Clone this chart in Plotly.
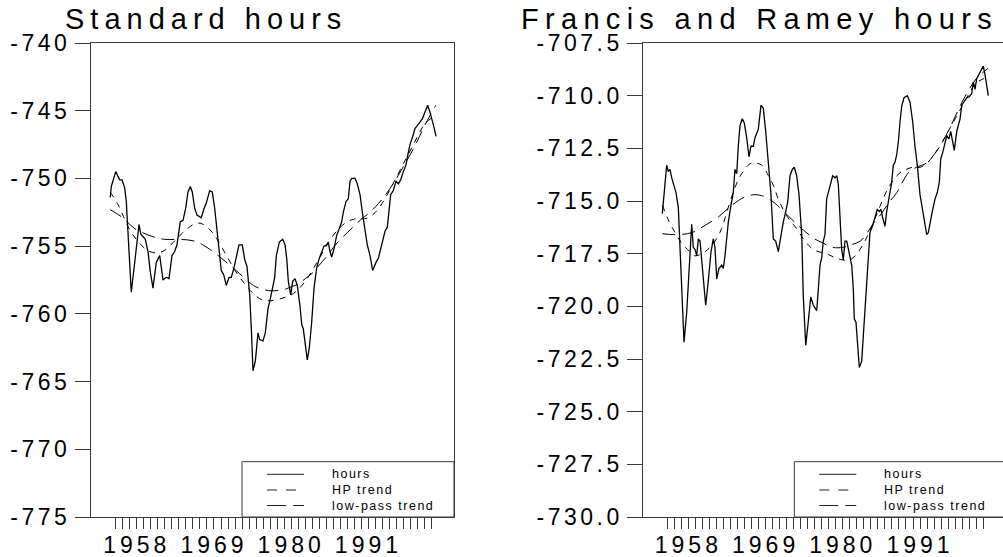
import plotly.graph_objects as go

W, H = 1003, 557

# ---------------- data ----------------
# Left panel: Standard hours
std_year = [1954.23, 1954.37, 1955.00, 1955.33, 1955.57, 1955.90, 1956.28, 1956.51, 1956.75, 1957.22,
            1957.71, 1958.03, 1958.32, 1958.56, 1958.89, 1959.22, 1959.60, 1959.93, 1960.31, 1960.78,
            1961.27, 1961.74, 1962.21, 1962.59, 1963.02, 1963.40, 1963.73, 1964.20, 1964.59, 1964.97,
            1965.30, 1965.63, 1965.91, 1966.25, 1966.58, 1966.97, 1967.19, 1967.54, 1967.91, 1968.39,
            1968.76, 1969.10, 1969.43, 1969.81, 1970.04, 1970.38, 1970.75, 1971.14, 1971.47, 1971.85,
            1972.18, 1972.56, 1973.03, 1973.38, 1973.70, 1974.09, 1974.32, 1974.56, 1974.89, 1975.27,
            1975.51, 1975.98, 1976.31, 1976.70, 1976.94, 1977.31, 1977.65, 1977.88, 1978.31, 1978.79,
            1979.12, 1979.36, 1979.59, 1979.93, 1980.21, 1980.54, 1980.87, 1981.25, 1981.50, 1981.72,
            1981.97, 1982.29, 1982.58, 1982.92, 1983.25, 1983.63, 1984.00, 1984.34, 1984.67, 1985.06,
            1985.28, 1985.53, 1985.77, 1986.10, 1986.48, 1986.85, 1987.19, 1987.42, 1987.81, 1988.13,
            1988.38, 1988.62, 1989.09, 1989.42, 1989.80, 1990.19, 1990.51, 1990.84, 1991.23, 1991.61,
            1992.08, 1992.41, 1992.89, 1993.36, 1993.69, 1993.93, 1994.17, 1994.54, 1994.93, 1995.26,
            1995.60, 1995.97, 1996.35, 1996.60, 1996.92, 1997.31, 1997.64, 1997.96, 1998.35, 1998.68,
            1999.06, 1999.44, 1999.77, 2000.10, 2000.38, 2000.63]
std_hours = [-751.4, -750.6, -749.5, -749.9, -750.1, -750.1, -750.7, -751.7, -753.7, -758.4,
             -756.2, -754.7, -753.4, -754.1, -754.3, -754.5, -755.4, -756.9, -758.1, -756.2,
             -755.7, -757.5, -757.3, -757.4, -755.7, -755.4, -754.9, -753.2, -753.1, -752.2,
             -751.0, -750.6, -751.0, -752.2, -752.7, -752.8, -752.9, -752.3, -751.8, -750.9,
             -751.0, -752.2, -753.7, -755.4, -756.8, -757.1, -757.9, -757.3, -757.3, -756.6,
             -755.7, -754.9, -754.9, -756.0, -756.5, -758.6, -761.1, -764.2, -763.5, -761.4,
             -761.9, -762.0, -761.4, -759.6, -759.1, -758.1, -757.3, -755.7, -754.7, -754.5,
             -754.9, -755.9, -757.6, -758.6, -757.6, -757.4, -757.9, -759.4, -760.8, -761.1,
             -762.1, -763.4, -762.5, -760.6, -758.1, -756.6, -755.9, -755.4, -755.0, -754.9,
             -754.7, -755.4, -755.8, -755.2, -754.2, -753.7, -753.2, -752.5, -751.7, -751.5,
             -750.2, -750.0, -750.0, -750.4, -751.2, -752.7, -753.7, -754.9, -755.7, -756.8,
             -756.2, -755.9, -754.9, -753.9, -753.6, -752.2, -751.2, -750.9, -750.2, -750.4,
             -750.1, -749.5, -749.0, -748.3, -747.5, -746.9, -746.3, -746.1, -745.8, -745.6,
             -745.1, -744.6, -745.1, -745.7, -746.3, -746.9]

std_hp_year = [1954.2, 1955.3, 1956.1, 1957.0, 1958.1, 1959.5, 1960.8, 1962.0, 1963.6, 1965.0,
               1966.5, 1967.5, 1968.8, 1969.8, 1971.0, 1972.0, 1973.1, 1974.6, 1976.0, 1977.5,
               1979.0, 1980.0, 1981.0, 1982.0, 1983.0, 1984.0, 1985.0, 1986.0, 1987.0, 1988.0,
               1989.0, 1990.0, 1991.0, 1992.0, 1993.0, 1994.0, 1995.0, 1996.0, 1997.0, 1998.0,
               1999.0, 2000.6]
std_hp = [-751.0, -751.9, -752.8, -753.8, -754.6, -755.3, -755.5, -755.3, -754.5, -753.8,
          -753.3, -753.4, -754.0, -754.8, -755.9, -756.8, -757.6, -758.5, -759.0, -759.0,
          -758.8, -758.6, -758.2, -757.6, -756.8, -755.9, -755.0, -754.2, -753.6, -753.2,
          -753.0, -753.0, -752.9, -752.5, -751.8, -750.9, -749.9, -748.9, -747.9, -746.9,
          -746.0, -745.3]

std_lp_year = [1954.2, 1956.0, 1957.7, 1960.3, 1962.0, 1964.0, 1966.0, 1967.4, 1969.6, 1971.0,
               1972.6, 1974.6, 1976.0, 1977.2, 1979.0, 1980.0, 1981.0, 1982.0, 1983.0, 1984.0,
               1985.0, 1986.0, 1987.0, 1988.0, 1989.0, 1990.0, 1991.0, 1992.0, 1993.0, 1994.0,
               1995.0, 1996.0, 1997.0, 1998.0, 1999.0, 2000.6]
std_lp = [-752.3, -752.9, -753.7, -754.3, -754.5, -754.5, -754.6, -754.9, -755.7, -756.3,
          -757.0, -757.9, -758.2, -758.3, -758.2, -758.0, -757.8, -757.4, -757.0, -756.4,
          -755.8, -755.1, -754.5, -754.0, -753.5, -753.0, -752.6, -752.1, -751.5, -750.8,
          -750.0, -749.1, -748.2, -747.2, -746.1, -744.6]

# Right panel: Francis and Ramey hours
fr_year = [1954.29, 1954.43, 1954.91, 1955.14, 1955.38, 1955.63, 1956.00, 1956.24, 1956.57, 1956.81,
           1957.05, 1957.38, 1957.76, 1958.09, 1958.48, 1958.70, 1958.95, 1959.19, 1959.42, 1959.66,
           1959.99, 1960.47, 1960.84, 1961.23, 1961.55, 1961.79, 1962.04, 1962.36, 1962.75, 1962.98,
           1963.22, 1963.46, 1963.69, 1964.07, 1964.40, 1964.64, 1964.89, 1965.11, 1965.36, 1965.68,
           1965.97, 1966.31, 1966.64, 1966.92, 1967.25, 1967.49, 1967.96, 1968.35, 1968.68, 1969.02,
           1969.39, 1969.77, 1970.10, 1970.44, 1970.81, 1971.20, 1971.52, 1971.87, 1972.15, 1972.48,
           1972.81, 1973.09, 1973.43, 1973.76, 1974.15, 1974.37, 1974.72, 1975.09, 1975.43, 1975.80,
           1976.28, 1976.51, 1976.75, 1976.99, 1977.22, 1977.46, 1977.70, 1977.93, 1978.28, 1978.56,
           1978.89, 1979.13, 1979.36, 1979.60, 1979.84, 1980.07, 1980.31, 1980.56, 1980.93, 1981.27,
           1981.50, 1981.64, 1981.88, 1982.07, 1982.35, 1982.69, 1982.92, 1983.31, 1983.63, 1983.87,
           1984.26, 1984.59, 1984.91, 1985.20, 1985.44, 1985.68, 1986.01, 1986.25, 1986.48, 1986.72,
           1986.97, 1987.19, 1987.44, 1987.68, 1987.91, 1988.15, 1988.39, 1988.72, 1989.19, 1989.57,
           1989.96, 1990.28, 1990.61, 1991.00, 1991.38, 1991.71, 1991.95, 1992.18, 1992.42, 1992.81,
           1993.14, 1993.46, 1993.75, 1993.95, 1994.23, 1994.56, 1994.81, 1995.13, 1995.37, 1995.66,
           1995.88, 1996.23, 1996.45, 1996.70, 1996.94, 1997.26, 1997.65, 1998.02, 1998.36, 1998.59,
           1998.83, 1999.07, 1999.44, 1999.79, 2000.01, 2000.26, 2000.50, 2000.72]
fr_hours = [-715.6, -715.05, -713.3, -713.6, -713.5, -713.9, -714.3, -714.6, -715.3, -717.1,
            -719.5, -721.7, -720.3, -718.2, -716.1, -717.2, -717.3, -717.6, -716.8, -716.9,
            -718.2, -719.95, -718.8, -717.4, -716.8, -717.2, -718.7, -718.2, -718.05, -718.2,
            -717.6, -716.6, -716.0, -715.2, -714.6, -713.5, -713.7, -712.4, -711.4, -711.1,
            -711.3, -712.0, -712.9, -712.4, -712.4, -712.0, -711.6, -710.45, -710.6, -711.7,
            -713.1, -714.7, -716.8, -716.9, -717.4, -716.5, -716.0, -715.5, -715.05, -713.8,
            -713.5, -713.4, -713.8, -714.7, -716.6, -719.5, -721.85, -720.7, -719.55, -719.95,
            -720.2, -719.2, -718.05, -717.7, -716.9, -716.6, -714.9, -714.6, -714.1, -713.8,
            -713.9, -713.8, -714.2, -715.7, -717.3, -717.8, -716.9, -716.9, -717.6, -718.05,
            -719.2, -720.6, -720.75, -721.7, -722.9, -722.6, -721.4, -719.5, -717.3, -716.5,
            -716.15, -715.7, -715.4, -715.5, -715.4, -715.8, -716.2, -715.5, -715.05, -714.6,
            -714.1, -713.3, -713.15, -712.8, -712.2, -711.25, -710.5, -710.1, -710.0, -710.3,
            -711.25, -712.4, -713.3, -714.7, -715.4, -716.0, -716.6, -716.5, -716.0, -715.4,
            -714.9, -714.6, -714.1, -713.0, -712.7, -712.2, -711.9, -712.05, -711.7, -712.2,
            -712.6, -711.7, -711.4, -711.1, -710.45, -710.3, -710.1, -710.05, -709.9, -709.35,
            -709.7, -709.2, -708.95, -708.7, -708.6, -709.0, -709.5, -710.0]

fr_hp_year = [1954.3, 1955.15, 1956.1, 1957.05, 1958.2, 1958.9, 1960.4, 1961.8, 1962.75, 1963.5,
              1964.6, 1965.6, 1967.0, 1968.45, 1969.4, 1970.1, 1970.8, 1972.0, 1973.4, 1974.6,
              1975.8, 1977.0, 1978.0, 1979.0, 1980.0, 1981.0, 1982.0, 1983.0, 1984.0, 1985.0,
              1986.0, 1987.0, 1988.0, 1989.0, 1990.0, 1991.0, 1992.0, 1993.0, 1994.0, 1995.0,
              1996.0, 1997.0, 1998.0, 1999.0, 2000.7]
fr_hp = [-715.2, -715.9, -716.5, -717.0, -717.4, -717.6, -717.4, -716.9, -716.3, -715.5,
         -714.4, -713.7, -713.2, -713.3, -713.8, -714.25, -714.9, -715.7, -716.3, -716.9,
         -717.3, -717.45, -717.55, -717.7, -717.8, -717.8, -717.5, -717.0, -716.3, -715.5,
         -714.7, -714.1, -713.7, -713.5, -713.4, -713.4, -713.2, -712.8, -712.3, -711.7,
         -711.1, -710.5, -709.9, -709.4, -709.1]

fr_lp_year = [1954.3, 1956.1, 1958.5, 1960.4, 1962.3, 1964.2, 1966.1, 1967.5, 1968.9, 1970.3,
              1972.2, 1974.1, 1976.0, 1977.2, 1978.5, 1980.0, 1981.0, 1982.5, 1983.5, 1984.5,
              1985.5, 1986.5, 1987.7, 1988.5, 1989.5, 1990.5, 1991.9, 1993.0, 1994.0, 1995.0,
              1996.0, 1997.0, 1998.0, 1999.0, 2000.7]
fr_lp = [-716.55, -716.6, -716.5, -716.15, -715.75, -715.2, -714.8, -714.7, -714.8, -715.1,
         -715.7, -716.3, -716.8, -717.0, -717.2, -717.2, -717.1, -716.9, -716.5, -716.0,
         -715.6, -715.1, -714.6, -714.1, -713.6, -713.4, -713.2, -712.8, -712.3, -711.7,
         -711.0, -710.3, -709.7, -709.2, -708.7]

# ticks / labels
x_tick_years = list(range(1955, 2001))
x_label_years = [1958, 1969, 1980, 1991]
x_labels = ["1958", "1969", "1980", "1991"]
std_ytick_vals = [-740, -745, -750, -755, -760, -765, -770, -775]
std_ytick_labels = ["-740", "-745", "-750", "-755", "-760", "-765", "-770", "-775"]
fr_ytick_vals = [-707.5, -710.0, -712.5, -715.0, -717.5, -720.0, -722.5, -725.0, -727.5, -730.0]
fr_ytick_labels = ["-707.5", "-710.0", "-712.5", "-715.0", "-717.5", "-720.0", "-722.5",
                   "-725.0", "-727.5", "-730.0"]
titles = ["Standard hours", "Francis and Ramey hours"]
series_names = ["hours", "HP trend", "low-pass trend"]

# ---------------- styling ----------------
FONT = "Liberation Sans, Arial, Helvetica, sans-serif"
AXC = "#3a3a3a"
HP_DASH = "6px,6px"
LP_DASH = "13px,7px"


def spaced(t, s):
    return f'<span style="letter-spacing:{s}px">{t}</span>'


def X(p):
    return p / W


def Y(p):
    return 1 - p / H


fig = go.Figure()
panels = [
    ("x", "y", std_year, std_hours, std_hp_year, std_hp, std_lp_year, std_lp),
    ("x2", "y2", fr_year, fr_hours, fr_hp_year, fr_hp, fr_lp_year, fr_lp),
]
for xa, ya, hx, hy, px_, py_, lx, ly in panels:
    fig.add_trace(go.Scatter(x=hx, y=hy, mode="lines", name=series_names[0], xaxis=xa, yaxis=ya,
                             line=dict(color="black", width=1.3), showlegend=False))
    fig.add_trace(go.Scatter(x=px_, y=py_, mode="lines", name=series_names[1], xaxis=xa, yaxis=ya,
                             line=dict(color="black", width=1, dash=HP_DASH, shape="spline"),
                             showlegend=False))
    fig.add_trace(go.Scatter(x=lx, y=ly, mode="lines", name=series_names[2], xaxis=xa, yaxis=ya,
                             line=dict(color="black", width=1, dash=LP_DASH, shape="spline"),
                             showlegend=False))

x_ticktext = [spaced(x_labels[x_label_years.index(v)], 4) if v in x_label_years else ""
              for v in x_tick_years]

common_x = dict(showline=True, linecolor=AXC, linewidth=1, mirror=True, ticks="outside",
                ticklen=11, tickwidth=1, tickcolor=AXC, tickvals=x_tick_years, ticktext=x_ticktext,
                tickfont=dict(family=FONT, size=23, color="black"), showgrid=False, zeroline=False,
                tickangle=0, automargin=False, ticklabelstandoff=-4)
common_y = dict(showline=True, linecolor=AXC, linewidth=1, ticks="outside", ticklen=15,
                tickwidth=1, tickcolor=AXC, tickfont=dict(family=FONT, size=23, color="black"),
                showgrid=False, zeroline=False, automargin=False)

ydom = [Y(517), Y(43)]
fig.update_layout(
    template="none",
    width=W, height=H, margin=dict(l=0, r=0, t=0, b=0, autoexpand=False),
    paper_bgcolor="white", plot_bgcolor="white", showlegend=False,
    xaxis=dict(domain=[X(91), X(454)], range=[1951.482, 2003.19], anchor="y", **common_x),
    yaxis=dict(domain=ydom, range=[-775, -740], anchor="x", mirror=True,
               tickvals=std_ytick_vals, ticktext=[spaced(t, 3.5) for t in std_ytick_labels],
               **common_y),
    xaxis2=dict(domain=[X(643.3), 1.0], range=[1951.581, 2002.82], anchor="y2", **common_x),
    yaxis2=dict(domain=ydom, range=[-730, -707.5], anchor="x2", mirror=False,
                tickvals=fr_ytick_vals, ticktext=[spaced(t, 3.5) for t in fr_ytick_labels],
                **common_y),
)

# titles
for cx, t, sp in zip([206, 759], titles, [6, 6.3]):
    fig.add_annotation(text=spaced(t, sp), x=X(cx), y=Y(19), xref="paper", yref="paper",
                       xanchor="center", yanchor="middle", showarrow=False,
                       borderpad=0, font=dict(family=FONT, size=29, color="black"))

# legends (one per panel)
dashes = ["solid", "10px,9px", "19px,7px"]
row_y = [474.3, 490.0, 505.5]
for off in [0, 552.3]:
    fig.add_shape(type="rect", xref="paper", yref="paper", x0=X(242 + off), x1=X(454 + off),
                  y0=Y(517), y1=Y(461.7), line=dict(color=AXC, width=1), fillcolor="white",
                  layer="above")
    for name, d, ry in zip(series_names, dashes, row_y):
        fig.add_shape(type="line", xref="paper", yref="paper", x0=X(267 + off), x1=X(304 + off),
                      y0=Y(ry), y1=Y(ry), line=dict(color="#222", width=1, dash=d))
        fig.add_annotation(text=spaced(name, 1.5), x=X(330 + off), y=Y(ry), xref="paper",
                           yref="paper", xanchor="left", yanchor="middle", showarrow=False,
                           font=dict(family=FONT, size=12.5, color="black"))

fig.write_html("out.html", config={"displayModeBar": False},
               post_script="document.body.style.margin='0';"
                           "document.body.style.overflow='hidden';")
